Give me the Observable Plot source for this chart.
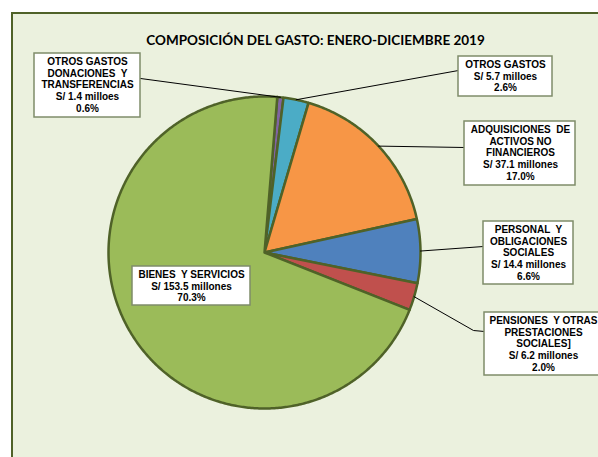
<!DOCTYPE html>
<html>
<head>
<meta charset="utf-8">
<script src="https://cdn.jsdelivr.net/npm/d3@7"></script>
<script src="https://cdn.jsdelivr.net/npm/@observablehq/plot@0.6"></script>
<style>
  html, body { margin: 0; padding: 0; background: #ffffff; overflow: hidden; }
  #wrap { position: relative; width: 598px; height: 457px; overflow: hidden; }
  #frame { position: absolute; left: 11px; top: 12px; width: 640px; height: 500px;
           background: #EBF1DE; border-left: 2px solid #4F6228; border-top: 2px solid #4F6228; }
  #chart { position: absolute; left: 0; top: 0; }
  #chart svg { background: transparent; }
</style>
</head>
<body>
<div id="wrap"><div id="frame"></div><div id="chart"></div></div>
<script>
// ---- data ----
const categories = [
  "OTROS GASTOS DONACIONES Y TRANSFERENCIAS",
  "OTROS GASTOS",
  "ADQUISICIONES DE ACTIVOS NO FINANCIEROS",
  "PERSONAL Y OBLIGACIONES SOCIALES",
  "PENSIONES Y OTRAS PRESTACIONES SOCIALES",
  "BIENES Y SERVICIOS"
];
const values = [1.4, 5.7, 37.1, 14.4, 6.2, 153.5];
const nameLines = [
  ["OTROS GASTOS", "DONACIONES  Y", "TRANSFERENCIAS"],
  ["OTROS GASTOS"],
  ["ADQUISICIONES  DE", "ACTIVOS NO", "FINANCIEROS"],
  ["PERSONAL  Y", "OBLIGACIONES", "SOCIALES"],
  ["PENSIONES  Y OTRAS", "PRESTACIONES", "SOCIALES]"],
  ["BIENES  Y SERVICIOS"]
];
const amountLabels = ["S/ 1.4 milloes", "S/ 5.7 milloes", "S/ 37.1 millones", "S/ 14.4 millones", "S/ 6.2 millones", "S/ 153.5 millones"];
const percentLabels = ["0.6%", "2.6%", "17.0%", "6.6%", "2.0%", "70.3%"];
const colors = ["#8064A2", "#4BACC6", "#F79646", "#4F81BD", "#C0504D", "#9BBB59"];
const title = "COMPOSICIÓN DEL GASTO: ENERO-DICIEMBRE 2019";

// ---- layout (label boxes, pie geometry) ----
const W = 598, H = 457;
const cx = 264, cy = 252, R = 156;
const startDeg = 4.7;
const boxes = [
  {x1: 34, x2: 140, y1: 53, y2: 117, tx: 87, ex: 140, ey: 78},
  {x1: 458, x2: 552, y1: 56, y2: 96, tx: 505, ex: 458, ey: 70},
  {x1: 464, x2: 575, y1: 121, y2: 185, tx: 520, ex: 464, ey: 147},
  {x1: 483, x2: 573, y1: 221, y2: 284, tx: 528, ex: 483, ey: 246},
  {x1: 484, x2: 640, y1: 312, y2: 375, tx: 543, ex: 484, ey: 331, kx: 473, ky: 330},
  {x1: 132, x2: 250, y1: 266, y2: 305, tx: 191, ex: null}
];

const rows = categories.map((c, i) => ({category: c, value: values[i], i}));
const pie = d3.pie().value(d => d.value).sort(null)
  .startAngle(startDeg * Math.PI / 180).endAngle(startDeg * Math.PI / 180 + 2 * Math.PI);
const arcs = pie(rows);

const pt = (a, r) => ({x: cx + r * Math.sin(a), y: cy - r * Math.cos(a)});
const slicePts = [];
arcs.forEach(a => {
  const n = Math.max(4, Math.ceil((a.endAngle - a.startAngle) / 0.01));
  slicePts.push({...pt(0, 0), category: a.data.category});
  for (let k = 0; k <= n; k++) {
    const ang = a.startAngle + (a.endAngle - a.startAngle) * k / n;
    slicePts.push({...pt(ang, R), category: a.data.category});
  }
});

const leaderPts = [];
arcs.forEach((a, i) => {
  const b = boxes[i];
  if (b.ex == null) return;
  const mid = (a.startAngle + a.endAngle) / 2;
  leaderPts.push({...pt(mid, R), g: i});
  if (b.kx != null) leaderPts.push({x: b.kx, y: b.ky, g: i});
  leaderPts.push({x: b.ex, y: b.ey, g: i});
});

const labelRows = rows.map((r, i) => ({
  ...boxes[i],
  text: [...nameLines[i], amountLabels[i], percentLabels[i]].join("\n")
}));

const chart = Plot.plot({
  width: W, height: H,
  margin: 0,
  x: {domain: [0, W], range: [0, W], axis: null},
  y: {domain: [0, H], range: [0, H], axis: null},
  color: {domain: categories, range: colors},
  style: {background: "transparent", overflow: "visible"},
  marks: [
    Plot.line(slicePts, {x: "x", y: "y", z: "category", fill: "category", stroke: "#4F6228",
      strokeWidth: 2.5, strokeLinejoin: "round", curve: "linear-closed"}),
    Plot.line(leaderPts, {x: "x", y: "y", z: "g", stroke: "#000000", strokeWidth: 1}),
    Plot.rect(labelRows, {x1: "x1", x2: "x2", y1: "y1", y2: "y2", fill: "#ffffff",
      stroke: "#7F8C6A", strokeWidth: 1.5}),
    Plot.text(labelRows, {x: "tx", y: d => d.y1 + 3, text: "text", lineAnchor: "top",
      lineHeight: 1.18, fontSize: 10, fontWeight: "bold", fontFamily: "Liberation Sans, Arial, sans-serif",
      fill: "#000000", textAnchor: "middle"}),
    Plot.text([title], {x: () => 315, y: () => 40, text: d => d, fontSize: 13.5, fontWeight: "bold",
      fontFamily: "Lato, 'Open Sans', sans-serif", fill: "#000000", textAnchor: "middle", lineAnchor: "middle"})
  ]
});
document.getElementById("chart").appendChild(chart);
</script>
</body>
</html>
